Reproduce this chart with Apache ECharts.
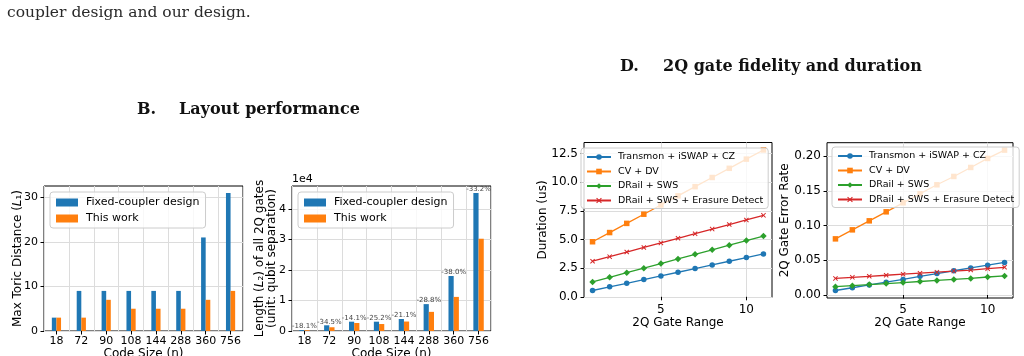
<!DOCTYPE html>
<html>
<head>
<meta charset="utf-8">
<script src="https://cdn.jsdelivr.net/npm/echarts@6/dist/echarts.min.js"></script>
<style>
html, body {margin: 0; background: #fff;}
#chart {width: 1024px; height: 356px;}
</style>
</head>
<body>
<div id="chart"></div>
<script>
// B. layout performance
const codeSizes = ['18', '72', '90', '108', '144', '288', '360', '756']
const toricFixed = [3, 9, 9, 9, 9, 9, 21, 31]
const toricWork = [3, 3, 7, 5, 5, 5, 7, 9]
const lenFixed = [300, 1870, 3050, 3050, 3930, 8800, 18000, 45200]
const lenWork = [246, 1225, 2620, 2281, 3100, 6266, 11160, 30200]
const lenDrop = ['-18.1%', '-34.5%', '-14.1%', '-25.2%', '-21.1%', '-28.8%', '-38.0%', '-33.2%']

// D. 2Q gate fidelity and duration
const gateRange = [1, 2, 3, 4, 5, 6, 7, 8, 9, 10, 11]
const durTransmon = [0.55, 0.87, 1.18, 1.5, 1.82, 2.14, 2.46, 2.78, 3.1, 3.42, 3.74]
const durCvDv = [4.8, 5.6, 6.4, 7.2, 8.0, 8.8, 9.6, 10.4, 11.2, 12.0, 12.8]
const durDrail = [1.3, 1.7, 2.1, 2.5, 2.9, 3.3, 3.7, 4.1, 4.5, 4.9, 5.3]
const durErasure = [3.1, 3.5, 3.9, 4.3, 4.7, 5.1, 5.5, 5.9, 6.3, 6.7, 7.1]
const errTransmon = [0.0065, 0.0105, 0.0145, 0.0185, 0.0225, 0.027, 0.031, 0.035, 0.039, 0.043, 0.047]
const errCvDv = [0.081, 0.094, 0.107, 0.120, 0.133, 0.146, 0.159, 0.171, 0.184, 0.197, 0.209]
const errDrail = [0.012, 0.0135, 0.015, 0.0165, 0.018, 0.0195, 0.021, 0.0225, 0.024, 0.026, 0.0275]
const errErasure = [0.024, 0.0255, 0.027, 0.0285, 0.030, 0.0315, 0.033, 0.0345, 0.036, 0.038, 0.040]

const lineNames = ['Transmon + iSWAP + CZ', 'CV + DV', 'DRail + SWS', 'DRail + SWS + Erasure Detect']
const barNames = ['Fixed-coupler design', 'This work']

const FONT = 'DejaVu Sans'
const BLUE = '#1f77b4', ORANGE = '#ff7f0e', GREEN = '#2ca02c', RED = '#d62728'
const GRIDC = '#dcdcdc'
const CROSS = 'path://M0,1.4L1.4,0L5,3.6L8.6,0L10,1.4L6.4,5L10,8.6L8.6,10L5,6.4L1.4,10L0,8.6L3.6,5Z'

const pairs = (ys) => gateRange.map((x, i) => [x, ys[i]])

const baseAxis = (fs, nfs) => ({
	axisLine: {show: false},
	axisTick: {show: true, length: 3.5, lineStyle: {color: '#000', width: 1}},
	axisLabel: {color: '#000', fontFamily: FONT, fontSize: fs, margin: 6},
	splitLine: {show: true, lineStyle: {color: GRIDC, width: 1}},
	nameTextStyle: {color: '#000', fontFamily: FONT, fontSize: nfs || fs},
	nameMoveOverlap: false
})

const catX = (idx, name) => Object.assign(baseAxis(11, 12), {
	type: 'category', gridIndex: idx, data: codeSizes,
	axisLabel: {color: '#000', fontFamily: FONT, fontSize: 11, margin: 5, interval: 0},
	axisTick: {show: true, alignWithLabel: true, interval: 0, length: 3.5, lineStyle: {color: '#000'}},
	splitLine: {show: true, interval: 0, lineStyle: {color: GRIDC}},
	name: name, nameLocation: 'middle', nameGap: 17
})

const valY = (idx, max, vals, fmt, fs, name, gap) => {
	const a = baseAxis(fs, idx < 2 ? 12 : fs)
	a.type = 'value'
	a.gridIndex = idx
	a.min = idx === 3 ? -0.0043 : (idx === 2 ? -0.06 : 0)
	a.max = max
	a.axisTick.customValues = vals
	a.axisLabel.customValues = vals
	a.axisLabel.formatter = fmt
	a.name = name
	a.nameLocation = 'middle'
	a.nameGap = gap
	a.nameRotate = 90
	return a
}

const rangeX = (idx) => {
	const a = baseAxis(12)
	a.type = 'value'
	a.gridIndex = idx
	a.min = 0.5
	a.max = 11.5
	a.axisTick.customValues = [5, 10]
	a.axisLabel.customValues = [5, 10]
	a.name = '2Q Gate Range'
	a.nameLocation = 'middle'
	a.nameGap = 19
	return a
}

const lineSeries = (idx, name, data, color, symbol, size) => ({
	type: 'line', name: name, xAxisIndex: idx, yAxisIndex: idx,
	data: pairs(data), symbol: symbol, symbolSize: size, showSymbol: true,
	lineStyle: {color: color, width: 1.3}, itemStyle: {color: color}, z: 3
})

const lineLegend = (left, top) => ({
	orient: 'vertical', left: left, top: top,
	data: lineNames, itemWidth: 24, itemHeight: 7, itemGap: 4.5,
	backgroundColor: 'rgba(255,255,255,0.8)', borderColor: '#cccccc', borderWidth: 1, borderRadius: 3,
	padding: [4, 5, 3, 5], selectedMode: false,
	textStyle: {fontFamily: FONT, fontSize: 9.5, color: '#000', padding: [0, 0, 0, 2]}
})

const barLegend = (left, top) => ({
	orient: 'vertical', left: left, top: top,
	data: barNames, itemWidth: 22, itemHeight: 8, itemGap: 5, icon: 'rect',
	backgroundColor: 'rgba(255,255,255,0.8)', borderColor: '#cccccc', borderWidth: 1, borderRadius: 3,
	padding: [5, 6, 4, 6], selectedMode: false,
	textStyle: {fontFamily: FONT, fontSize: 11, color: '#000', padding: [0, 0, 0, 3]}
})

const chart = echarts.init(document.getElementById('chart'), null, {renderer: 'canvas'})
chart.setOption({
	animation: false,
	backgroundColor: '#fff',
	grid: [
		{left: 44, top: 186, width: 199, height: 145},
		{left: 292, top: 186, width: 199, height: 145},
		{left: 584, top: 142.5, width: 188, height: 155},
		{left: 827, top: 142.7, width: 186, height: 155.3}
	].map(g => Object.assign(g, {show: true, borderColor: '#000', borderWidth: 1, containLabel: false, outerBoundsMode: 'none'})),
	xAxis: [
		catX(0, 'Code Size (n)'),
		catX(1, 'Code Size (n)'),
		rangeX(2),
		rangeX(3)
	],
	yAxis: [
		valY(0, 32.55, [0, 10, 20, 30], v => v, 11, '{t|Max Toric Distance (}{i|L}{t|₁)}', 20),
		valY(1, 47460, [0, 10000, 20000, 30000, 40000], v => v / 10000, 11, '{t|Length (}{i|L}{t|₂) of all 2Q gates}\n{t|(unit: qubit separation)}', 14),
		valY(2, 13.45, [0, 2.5, 5, 7.5, 10, 12.5], v => v.toFixed(1), 12, 'Duration (us)', 35),
		valY(3, 0.2197, [0, 0.05, 0.1, 0.15, 0.2], v => v.toFixed(2), 12, '2Q Gate Error Rate', 36)
	].map((a, i) => {
		if (i < 2) a.nameTextStyle.rich = {
			t: {fontFamily: FONT, fontSize: 12, color: '#000'},
			i: {fontFamily: FONT, fontSize: 12, color: '#000', fontStyle: 'italic'}
		}
		return a
	}),
	legend: [barLegend(50, 192), barLegend(298, 192), lineLegend(581, 148), lineLegend(832, 147)],
	series: [
		{type: 'bar', name: barNames[0], xAxisIndex: 0, yAxisIndex: 0, data: toricFixed, barWidth: 4.6, barGap: '0%', itemStyle: {color: BLUE}},
		{type: 'bar', name: barNames[1], xAxisIndex: 0, yAxisIndex: 0, data: toricWork, barWidth: 4.6, barGap: '0%', itemStyle: {color: ORANGE}},
		{type: 'bar', name: barNames[0], xAxisIndex: 1, yAxisIndex: 1, data: lenFixed, barWidth: 5.2, barGap: '0%', itemStyle: {color: BLUE},
			label: {show: true, position: 'top', offset: [2.6, 1], distance: 1, fontFamily: FONT, fontSize: 7, color: '#444',
				formatter: p => lenDrop[p.dataIndex]}},
		{type: 'bar', name: barNames[1], xAxisIndex: 1, yAxisIndex: 1, data: lenWork, barWidth: 5.2, barGap: '0%', itemStyle: {color: ORANGE}},
		lineSeries(2, lineNames[0], durTransmon, BLUE, 'circle', 5.5),
		lineSeries(2, lineNames[1], durCvDv, ORANGE, 'rect', 5.5),
		lineSeries(2, lineNames[2], durDrail, GREEN, 'diamond', 6.5),
		lineSeries(2, lineNames[3], durErasure, RED, CROSS, 5),
		lineSeries(3, lineNames[0], errTransmon, BLUE, 'circle', 5.5),
		lineSeries(3, lineNames[1], errCvDv, ORANGE, 'rect', 5.5),
		lineSeries(3, lineNames[2], errDrail, GREEN, 'diamond', 6.5),
		lineSeries(3, lineNames[3], errErasure, RED, CROSS, 5)
	],
	graphic: [
		{type: 'text', left: 7, top: 5, style: {text: 'coupler design and our design.', font: '15.5px "DejaVu Serif"', fill: '#2a2a2a'}},
		{type: 'text', left: 137, top: 102, style: {text: 'B.', font: 'bold 16px "DejaVu Serif"', fill: '#111'}},
		{type: 'text', left: 179, top: 102, style: {text: 'Layout performance', font: 'bold 16px "DejaVu Serif"', fill: '#111'}},
		{type: 'text', left: 620, top: 59, style: {text: 'D.', font: 'bold 16px "DejaVu Serif"', fill: '#111'}},
		{type: 'text', left: 663, top: 59, style: {text: '2Q gate fidelity and duration', font: 'bold 16px "DejaVu Serif"', fill: '#111'}},
		{type: 'text', left: 292, top: 174, style: {text: '1e4', font: '11px "DejaVu Sans"', fill: '#000'}}
	]
})
</script>
</body>
</html>
